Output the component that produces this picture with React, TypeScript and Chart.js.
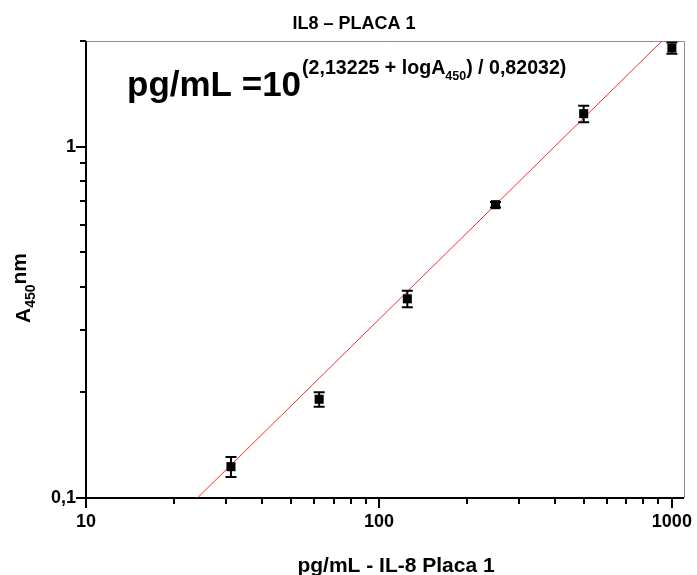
import React, { useEffect, useRef } from 'react';
import { Chart, registerables } from 'chart.js';

Chart.register(...registerables);

// ---- data ----
const concentrations = [31.25, 62.5, 125, 250, 500, 1000];
const absorbance = [0.1228, 0.191, 0.369, 0.684, 1.242, 1.91];
const absError = [0.008, 0.009, 0.02, 0.012, 0.067, 0.07];
const fitX = [24.0, 925];
const fitY = [0.1, 2.0];
const xLabelValues = [10, 100, 1000];
const xLabelTexts = ['10', '100', '1000'];
const yLabelValues = [0.1, 1];
const yLabelTexts = ['0,1', '1'];

const chartTitle = 'IL8 – PLACA 1';
const xTitle = 'pg/mL - IL-8 Placa 1';
const eqMain = 'pg/mL =10';
const eqSup1 = '(2,13225 + logA';
const eqSub = '450';
const eqSup2 = ') / 0,82032)';

const FONT = "'Liberation Sans', Arial, sans-serif";

function isNice(v: number) {
  const e = Math.floor(Math.log10(v) + 1e-9);
  const m = v / Math.pow(10, e);
  return Math.abs(m - Math.round(m)) < 1e-6 && Math.round(m) >= 1 && Math.round(m) <= 9;
}
function isMajor(v: number) {
  const l = Math.log10(v);
  return Math.abs(l - Math.round(l)) < 1e-6;
}
function findLabel(values: number[], texts: string[], v: number) {
  for (let i = 0; i < values.length; i++) {
    if (Math.abs(values[i] - v) / values[i] < 1e-6) return texts[i];
  }
  return '';
}

const decorPlugin = {
  id: 'decor',
  beforeDatasetsDraw(chart: any) {
    const ctx = chart.ctx;
    const { left, right, top, bottom } = chart.chartArea;
    const xs = chart.scales.x;
    const ys = chart.scales.y;
    ctx.save();
    ctx.strokeStyle = '#8c8c8c';
    ctx.lineWidth = 1;
    ctx.beginPath();
    ctx.moveTo(left, top + 0.5);
    ctx.lineTo(right + 0.5, top + 0.5);
    ctx.lineTo(right + 0.5, bottom);
    ctx.stroke();
    ctx.strokeStyle = '#000';
    ctx.lineWidth = 2;
    ctx.beginPath();
    ctx.moveTo(left, top);
    ctx.lineTo(left, bottom);
    ctx.lineTo(right, bottom);
    ctx.stroke();
    ctx.lineWidth = 2;
    ctx.beginPath();
    xs.ticks.forEach((t: any) => {
      if (!isNice(t.value)) return;
      const px = Math.round(xs.getPixelForValue(t.value));
      const len = isMajor(t.value) ? 10 : 6;
      ctx.moveTo(px, bottom);
      ctx.lineTo(px, bottom + len);
    });
    ys.ticks.forEach((t: any) => {
      if (!isNice(t.value)) return;
      const py = Math.round(ys.getPixelForValue(t.value));
      const len = isMajor(t.value) ? 10 : 6;
      ctx.moveTo(left, py);
      ctx.lineTo(left - len, py);
    });
    ctx.stroke();
    ctx.restore();
  },
  afterDatasetsDraw(chart: any) {
    const ctx = chart.ctx;
    const xs = chart.scales.x;
    const ys = chart.scales.y;
    ctx.save();
    ctx.strokeStyle = '#000';
    ctx.lineWidth = 2;
    concentrations.forEach((c, i) => {
      const px = xs.getPixelForValue(c);
      const hi = ys.getPixelForValue(absorbance[i] + absError[i]);
      const lo = ys.getPixelForValue(absorbance[i] - absError[i]);
      ctx.beginPath();
      ctx.moveTo(px, hi);
      ctx.lineTo(px, lo);
      ctx.moveTo(px - 5.5, hi);
      ctx.lineTo(px + 5.5, hi);
      ctx.moveTo(px - 5.5, lo);
      ctx.lineTo(px + 5.5, lo);
      ctx.stroke();
    });
    ctx.restore();
  },
  afterDraw(chart: any) {
    const ctx = chart.ctx;
    ctx.save();
    ctx.fillStyle = '#000';
    // chart title
    ctx.font = `bold 18px ${FONT}`;
    ctx.textAlign = 'center';
    ctx.textBaseline = 'alphabetic';
    ctx.fillText(chartTitle, 354, 29);
    // equation
    ctx.textAlign = 'left';
    let x = 127;
    const base = 96;
    ctx.font = `bold 35px ${FONT}`;
    ctx.fillText(eqMain, x, base);
    x += ctx.measureText(eqMain).width + 1;
    ctx.font = `bold 19.6px ${FONT}`;
    ctx.fillText(eqSup1, x, base - 22);
    x += ctx.measureText(eqSup1).width;
    ctx.font = `bold 12.5px ${FONT}`;
    ctx.fillText(eqSub, x, base - 16);
    x += ctx.measureText(eqSub).width;
    ctx.font = `bold 19.6px ${FONT}`;
    ctx.fillText(eqSup2, x, base - 22);
    // x title
    ctx.font = `bold 21px ${FONT}`;
    ctx.textAlign = 'center';
    ctx.fillText(xTitle, 396, 572);
    // y title (rotated, with subscript)
    ctx.translate(30, 288);
    ctx.rotate(-Math.PI / 2);
    ctx.textAlign = 'left';
    ctx.font = `bold 21px ${FONT}`;
    const wA = ctx.measureText('A').width;
    ctx.font = `bold 14px ${FONT}`;
    const wS = ctx.measureText(eqSub).width;
    ctx.font = `bold 21px ${FONT}`;
    const wN = ctx.measureText('nm').width;
    let sx = -(wA + wS + wN) / 2;
    ctx.fillText('A', sx, 0);
    sx += wA;
    ctx.font = `bold 14px ${FONT}`;
    ctx.fillText(eqSub, sx, 5);
    sx += wS;
    ctx.font = `bold 21px ${FONT}`;
    ctx.fillText('nm', sx, -4);
    ctx.restore();
  },
};

export default function App() {
  const ref = useRef<HTMLCanvasElement | null>(null);
  useEffect(() => {
    if (!ref.current) return;
    const chart = new Chart(ref.current, {
      type: 'scatter',
      data: {
        datasets: [
          {
            type: 'scatter',
            label: 'IL8',
            data: concentrations.map((c, i) => ({ x: c, y: absorbance[i] })),
            pointStyle: 'rect',
            pointRadius: 6.4,
            pointHoverRadius: 6.4,
            backgroundColor: '#000',
            borderColor: '#000',
            borderWidth: 0,
          },
          {
            type: 'line',
            label: 'fit',
            data: fitX.map((x, i) => ({ x, y: fitY[i] })),
            borderColor: '#ff2a2a',
            borderWidth: 1,
            pointRadius: 0,
            fill: false,
          },
        ],
      },
      options: {
        responsive: false,
        animation: false,
        events: [],
        layout: { padding: { top: 41, right: 10, left: 0, bottom: 0 } },
        plugins: {
          legend: { display: false },
          title: { display: false },
          tooltip: { enabled: false },
        },
        scales: {
          x: {
            type: 'logarithmic',
            min: 10,
            max: 1100,
            grid: { display: false, drawTicks: false },
            border: { display: false },
            ticks: {
              autoSkip: false,
              maxRotation: 0,
              padding: 13,
              color: '#000',
              font: { family: FONT, size: 18, weight: 'bold' },
              callback: (v: any) => findLabel(xLabelValues, xLabelTexts, Number(v)),
            },
            afterFit: (s: any) => {
              s.height = 77;
            },
          },
          y: {
            type: 'logarithmic',
            min: 0.1,
            max: 2,
            grid: { display: false, drawTicks: false },
            border: { display: false },
            ticks: {
              autoSkip: false,
              padding: 10,
              color: '#000',
              font: { family: FONT, size: 18, weight: 'bold' },
              callback: (v: any) => findLabel(yLabelValues, yLabelTexts, Number(v)),
            },
            afterFit: (s: any) => {
              s.width = 86;
            },
          },
        },
      },
      plugins: [decorPlugin],
    } as any);
    return () => chart.destroy();
  }, []);
  return (
    <div style={{ position: 'fixed', left: 0, top: 0, width: 697, height: 575, background: '#fff' }}>
      <canvas ref={ref} width={697} height={575} style={{ width: 697, height: 575, display: 'block' }} />
    </div>
  );
}
